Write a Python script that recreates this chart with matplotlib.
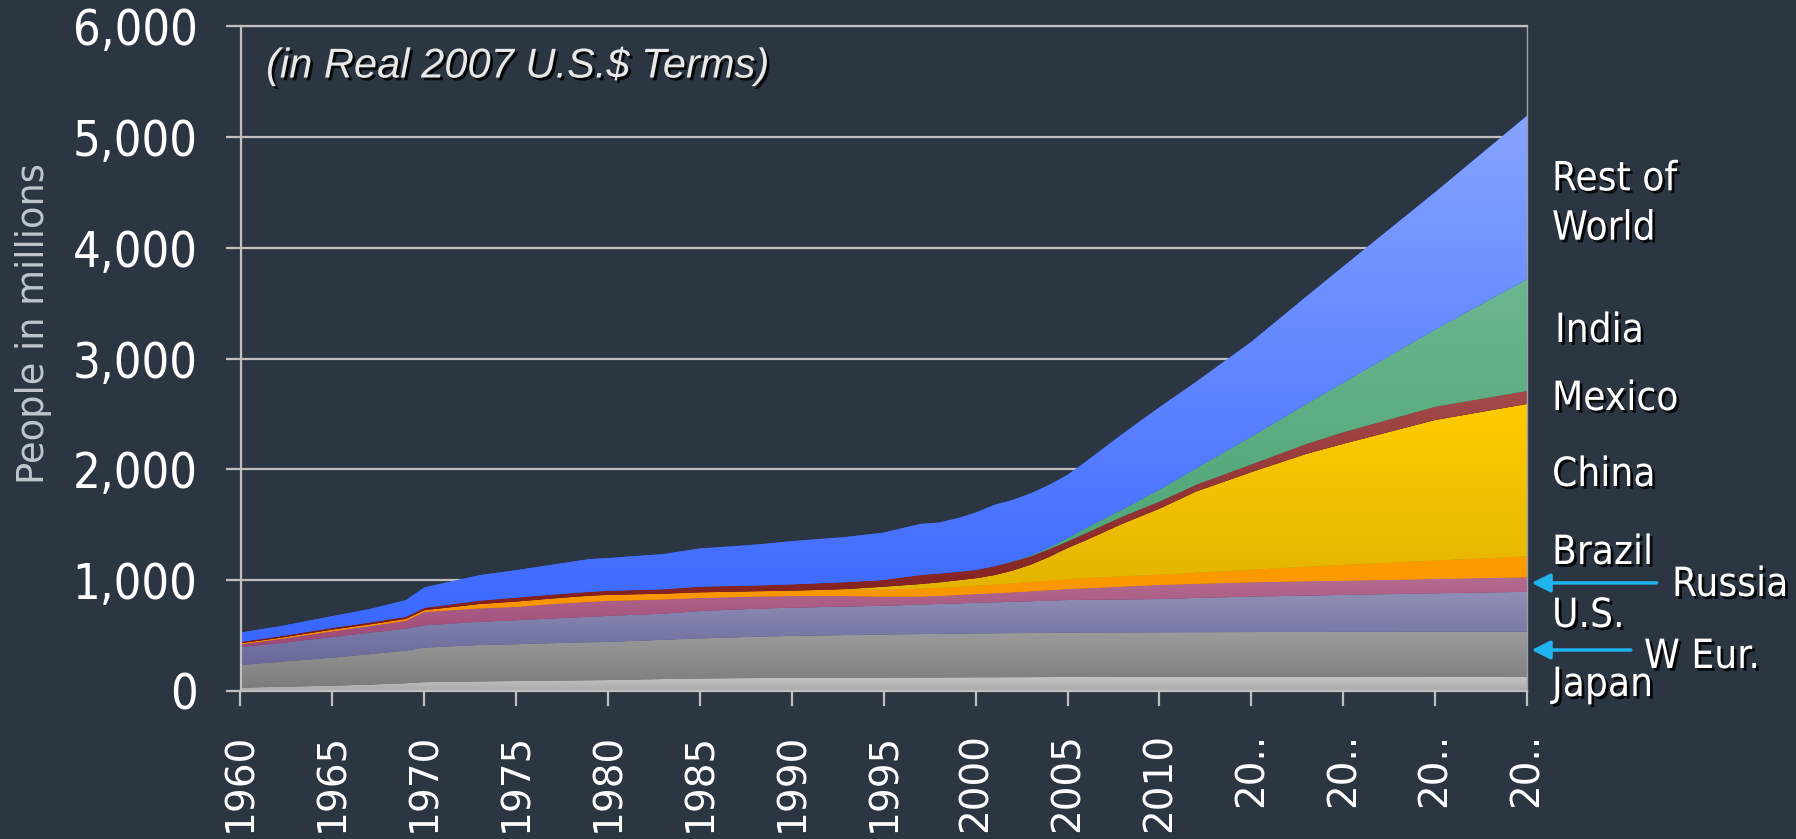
import numpy as np
import matplotlib
matplotlib.use("Agg")
import matplotlib.pyplot as plt
import matplotlib.patheffects as pe
from matplotlib.colors import LinearSegmentedColormap

# people in millions (projection after 2010)
years = [1960, 1962, 1965, 1967, 1969, 1970, 1973, 1975, 1977, 1979, 1980, 1983,
         1985, 1988, 1990, 1993, 1995, 1997, 1998, 1999, 2000, 2001, 2002, 2003,
         2004, 2005, 2006, 2008, 2010, 2012, 2015, 2018, 2020, 2025, 2030]

japan = [30, 38, 48, 58, 70, 80, 87, 90, 94, 97, 99, 108,
         113, 117, 118, 120, 121, 122, 122, 123, 124, 124, 125, 125,
         126, 127, 127, 128, 128, 128, 128, 128, 128, 127, 126]
w_eur = [205, 224, 253, 274, 295, 312, 328, 332, 338, 343, 344, 354,
         362, 373, 379, 385, 389, 392, 394, 395, 396, 397, 397, 398,
         399, 400, 401, 401, 402, 403, 404, 405, 406, 408, 410]
us = [163, 168, 187, 193, 198, 201, 210, 217, 223, 230, 235, 236,
      247, 252, 255, 257, 260, 266, 269, 272, 277, 279, 283, 287,
      291, 294, 295, 297, 300, 309, 320, 328, 333, 347, 359]
russia = [24, 35, 51, 60, 70, 121, 120, 120, 130, 135, 135, 128,
          117, 110, 105, 95, 81, 72, 73, 76, 78, 82, 85, 90,
          94, 99, 104, 116, 127, 127, 129, 129, 129, 129, 131]
brazil = [9, 11, 15, 15, 18, 15, 40, 48, 50, 55, 54, 52,
          51, 48, 48, 61, 66, 71, 72, 74, 75, 78, 81, 85,
          88, 90, 93, 93, 93, 100, 114, 132, 142, 166, 189]
china = [0, 0, 0, 0, 0, 0, 0, 0, 0, 0, 0, 0,
         0, 0, 0, 2, 24, 42, 50, 58, 67, 85, 115, 155,
         212, 280, 340, 475, 595, 733, 880, 1018, 1092, 1268, 1375]
mexico = [12, 14, 15, 17, 18, 21, 30, 36, 35, 35, 37, 40,
          51, 52, 57, 63, 61, 82, 80, 77, 75, 80, 81, 75,
          70, 60, 65, 65, 65, 62, 70, 90, 105, 120, 118]
india = [0, 0, 0, 0, 0, 0, 0, 0, 0, 0, 0, 0,
         0, 0, 0, 0, 0, 0, 0, 0, 0, 0, 3, 7,
         15, 30, 45, 65, 108, 148, 251, 360, 448, 697, 1008]
rest_of_world = [84, 90, 106, 121, 150, 184, 230, 247, 270, 295, 295, 317,
                 344, 368, 390, 407, 427, 460, 459, 483, 517, 553, 553, 561,
                 565, 570, 600, 680, 742, 780, 854, 970, 1047, 1238, 1474]

series = [japan, w_eur, us, russia, brazil, china, mexico, india, rest_of_world]
# (bottom colour, top colour) of the vertical gradient in each band
band_colors = [("#a9a9a9", "#c6c6c6"),
               ("#7c7c7c", "#9c9c9c"),
               ("#68689a", "#9090b6"),
               ("#9c4676", "#b46c90"),
               ("#f39000", "#ff9c00"),
               ("#dcae00", "#ffcc00"),
               ("#7e1818", "#a44a4a"),
               ("#48a06e", "#6ab690"),
               ("#3866ff", "#86a4ff")]

tick_years = list(range(1960, 2031, 5))
tick_labels = [str(y) if y <= 2010 else "20.." for y in tick_years]
y_ticks = [0, 1000, 2000, 3000, 4000, 5000, 6000]

bg = "#2c3643"
line_gray = "#bfbfbf"

fig = plt.figure(figsize=(17.96, 8.39), dpi=100, facecolor=bg)
ax = fig.add_axes([240.5 / 1796, 1 - 691 / 839, (1527 - 240.5) / 1796, (691 - 26) / 839])
ax.set_facecolor(bg)

x = np.array(years, dtype=float)
lower = np.zeros(len(years))
grad = np.linspace(0, 1, 256).reshape(-1, 1)
for vals, (c_lo, c_hi) in zip(series, band_colors):
    upper = lower + np.array(vals, dtype=float)
    poly = ax.fill_between(x, lower, upper, facecolor=c_lo, edgecolor="none", zorder=2)
    cmap = LinearSegmentedColormap.from_list("band", [c_lo, c_hi])
    im = ax.imshow(grad, extent=[1960, 2030, lower.min(), upper.max()], origin="lower",
                   aspect="auto", cmap=cmap, zorder=2, interpolation="bilinear")
    im.set_clip_path(poly.get_paths()[0], transform=ax.transData)
    lower = upper

ax.set_xlim(1960, 2030)
ax.set_ylim(0, 6000)

ax.set_axisbelow(True)
ax.yaxis.grid(True, color=line_gray, lw=1.6, zorder=0)
for side in ["left", "bottom", "top"]:
    ax.spines[side].set_color(line_gray)
    ax.spines[side].set_linewidth(1.6)
ax.spines["right"].set_color("#9aa0a6")
ax.spines["right"].set_linewidth(1.0)
ax.spines["bottom"].set_zorder(3)

ax.set_yticks(y_ticks)
ax.set_yticklabels([f"{v:,}" for v in y_ticks])
ax.set_xticks(tick_years)
ax.set_xticklabels(tick_labels, rotation=90, va="top", ha="center")
ax.tick_params(axis="y", direction="out", length=11, width=1.6, color=line_gray,
               pad=20, labelcolor="white", labelsize=35)
ax.tick_params(axis="x", direction="out", length=11, width=1.6, color=line_gray,
               pad=19, labelcolor="white", labelsize=28)
for lab in ax.get_yticklabels():
    lab.set_family("DejaVu Sans")
    lab.set_fontstretch("condensed")
for lab in ax.get_xticklabels():
    lab.set_family("DejaVu Sans")

fig.text(34 / 1796, 1 - 324 / 839, "People in millions", rotation=90, color="#c0c6cc",
         fontsize=26.5, ha="center", va="center", family="DejaVu Sans")

shadow = [pe.withSimplePatchShadow(offset=(2, -2), shadow_rgbFace="black", alpha=0.85)]

fig.text(266 / 1796, 1 - 66 / 839, "(in Real 2007 U.S.$ Terms)", color="#e8e8e8",
         fontsize=30, style="italic", ha="left", va="center",
         family=["Liberation Sans", "DejaVu Sans"], path_effects=shadow)

labels = [("Rest of\nWorld", 1552, 204), ("India", 1555, 331), ("Mexico", 1552, 399),
          ("China", 1552, 475), ("Brazil", 1552, 553), ("U.S.", 1552, 616),
          ("Japan", 1552, 685), ("Russia", 1672, 585), ("W Eur.", 1644, 657)]
for text, px, py in labels:
    fig.text(px / 1796, 1 - py / 839, text, color="white", fontsize=29,
             ha="left", va="center", linespacing=1.3, family="DejaVu Sans",
             fontstretch="condensed", path_effects=shadow)

arrow = dict(arrowstyle="-|>", color="#1fb4ef", lw=2.5, mutation_scale=28)
ax.annotate("", xy=(2030.1, 975), xytext=(2037.2, 975), arrowprops=arrow,
            annotation_clip=False)
ax.annotate("", xy=(2030.1, 370), xytext=(2035.8, 370), arrowprops=arrow,
            annotation_clip=False)

fig.savefig("out.png", dpi=100, facecolor=bg)
